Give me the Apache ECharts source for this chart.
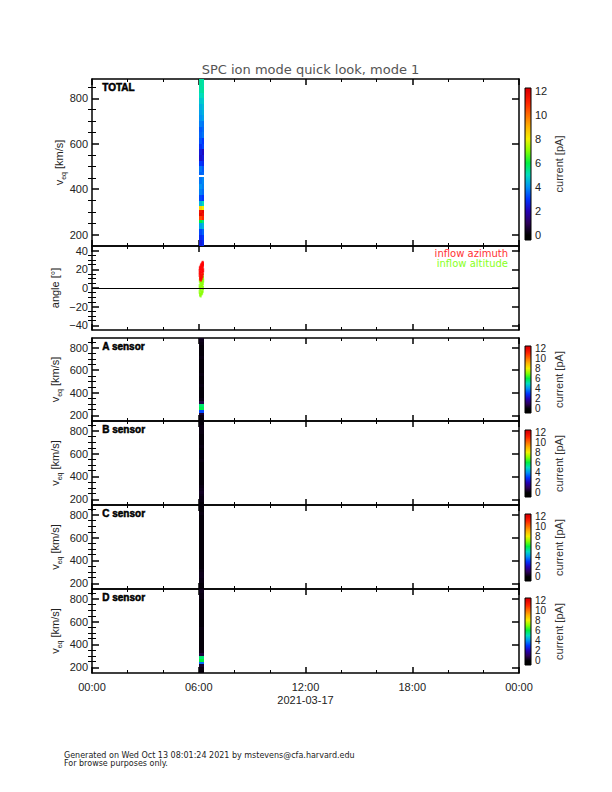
<!DOCTYPE html>
<html><head><meta charset="utf-8">
<script src="https://cdn.jsdelivr.net/npm/echarts@6/dist/echarts.min.js"></script>
<style>html,body{margin:0;padding:0;background:#fff}#c{width:612px;height:792px}</style>
</head><body><div id="c"></div>
<script>
// ---------------- data ----------------
const titleText = 'SPC ion mode quick look, mode 1';
const timeTickHours = [0, 6, 12, 18, 24];
const timeTickLabels = ['00:00', '06:00', '12:00', '18:00', '00:00'];
const dateLabel = '2021-03-17';
const velTicks = [200, 400, 600, 800];
const velMinorTicks = [250, 300, 350, 450, 500, 550, 650, 700, 750, 850];
const angleTicks = [-40, -20, 0, 20, 40];
const angleMinorTicks = [-35, -30, -25, -15, -10, -5, 5, 10, 15, 25, 30, 35];
const colorbarTicks = [0, 2, 4, 6, 8, 10, 12];
const cmapColors = ['#000000', '#2c0058', '#2400b4', '#0034ff', '#0092f4', '#00dcc0', '#00f040',
                    '#84ff00', '#f4f000', '#ffb400', '#ff6c00', '#ff2400', '#e00000'];
const panelNames = ['TOTAL', 'A sensor', 'B sensor', 'C sensor', 'D sensor'];
const footerLines = ['Generated on Wed Oct 13 08:01:24 2021 by mstevens@cfa.harvard.edu', 'For browse purposes only.'];
const legendNames = ['inflow azimuth', 'inflow altitude'];

// TOTAL spectrogram: two time sub-columns (hours), velocity bin edges (km/s), currents (pA)
const totalTimeEdges = [6.03, 6.155, 6.28];
const totalVelEdges = [150, 175, 200, 225, 250, 265, 280, 295, 310, 325, 350, 375, 400, 425, 455, 462,
                       475, 500, 525, 550, 575, 600, 625, 650, 675, 700, 725, 750, 775, 800, 825, 850, 885];
const totalCurrentEarly = [2.5, 2.8, 3.2, 4.2, 6.0, 10.5, 11.8, 11.5, 8.5, 4.5, 3.2, 3.8, 4.0, 3.7, null, 3.5,
                           3.7, 3.0, 2.3, 2.5, 2.9, 3.3, 3.5, 3.4, 3.8, 4.0, 4.2, 4.4, 4.7, 5.0, 5.2, 5.3];
const totalCurrentLate  = [2.8, 3.0, 3.5, 4.5, 5.5, 11.0, 11.5, 11.8, 8.0, 5.0, 3.0, 3.6, 3.8, 3.9, null, 3.6,
                           3.4, 2.8, 2.5, 2.2, 3.2, 3.0, 3.7, 3.6, 3.7, 4.2, 4.4, 4.6, 4.8, 5.1, 5.3, 5.2];

// Sensor spectrograms
const sensorTimeEdges = [6.03, 6.28];
const sensorVelEdges = [150, 175, 200, 225, 250, 275, 300, 325, 350, 375, 400, 425, 450, 475, 500,
                        525, 550, 575, 600, 625, 650, 675, 700, 725, 750, 775, 800, 825, 850, 885];
const sensorA = [0.1, 0.2, 0.6, 3.2, 5.9, 5.6, 0.8, 0.2, 0.1, 0.1, 0.1, 0.1, 0.2, 0.1, 0.1,
                 0.1, 0.2, 0.1, 0.1, 0.1, 0.1, 0.1, 0.2, 0.1, 0.1, 0.1, 0.1, 0.2, 0.3];
const sensorB = [0.1, 0.2, 0.2, 0.3, 0.4, 0.3, 0.2, 0.1, 0.1, 0.1, 0.1, 0.1, 0.1, 0.1, 0.1,
                 0.2, 0.1, 0.1, 0.1, 0.1, 0.2, 0.1, 0.1, 0.1, 0.1, 0.2, 0.2, 0.2, 0.1];
const sensorC = [0.1, 0.1, 0.2, 0.2, 0.3, 0.3, 0.2, 0.1, 0.1, 0.1, 0.1, 0.1, 0.1, 0.1, 0.1,
                 0.1, 0.1, 0.1, 0.1, 0.1, 0.1, 0.1, 0.1, 0.1, 0.1, 0.1, 0.2, 0.1, 0.1];
const sensorD = [0.1, 0.2, 0.5, 3.6, 6.0, 5.6, 0.7, 0.2, 0.1, 0.1, 0.1, 0.1, 0.1, 0.1, 0.1,
                 0.2, 0.1, 0.1, 0.1, 0.1, 0.1, 0.1, 0.1, 0.1, 0.1, 0.1, 0.2, 0.2, 0.3];

// Inflow angles [hour, degrees]
const azimuthPoints = [[6.05,14],[6.05,18],[6.06,21],[6.07,10],[6.08,16],[6.09,22],[6.10,12],[6.11,19],
  [6.12,24],[6.13,9],[6.14,15],[6.15,21],[6.16,25],[6.17,11],[6.18,18],[6.19,23],[6.20,26],[6.21,13],
  [6.22,20],[6.22,27],[6.23,16],[6.24,24],[6.24,26],[6.25,19]];
const altitudePoints = [[6.05,-4],[6.05,2],[6.06,8],[6.07,-7],[6.08,0],[6.09,6],[6.10,11],[6.11,-8],
  [6.12,-2],[6.13,4],[6.14,10],[6.15,-6],[6.16,1],[6.17,7],[6.18,13],[6.19,-5],[6.20,3],[6.21,9],
  [6.22,14],[6.22,-3],[6.23,5],[6.24,11],[6.24,0],[6.25,8]];

// ---------------- layout ----------------
const FONT = 'Liberation Sans, Arial, sans-serif';
const WFONT = 'DejaVu Sans, sans-serif';
const PL = 92, PW = 427;
const panels = [
  {top: 79,  height: 167, kind: 'vel', name: 0, cbTop: 88,  cbH: 152, cbMin: -0.4, cbMax: 12.23, cbFont: 11},
  {top: 246, height: 84,  kind: 'angle'},
  {top: 338, height: 83,  kind: 'vel', name: 1, cbTop: 346, cbH: 67, cbMin: -0.8, cbMax: 12.4, cbFont: 10},
  {top: 421, height: 84,  kind: 'vel', name: 2, cbTop: 430, cbH: 67, cbMin: -0.8, cbMax: 12.4, cbFont: 10},
  {top: 505, height: 84,  kind: 'vel', name: 3, cbTop: 514, cbH: 67, cbMin: -0.8, cbMax: 12.4, cbFont: 10},
  {top: 589, height: 84,  kind: 'vel', name: 4, cbTop: 598, cbH: 67, cbMin: -0.8, cbMax: 12.4, cbFont: 10}
];
const VMIN = 150, VMAX = 885;
const lineStyle = {color: '#000', width: 1.5};
const grid = [], xAxis = [], yAxis = [], series = [];
const mainAx = [];

function cellData(timeEdges, velEdges, columns) {
  const out = [];
  for (let c = 0; c < columns.length; c++) {
    for (let i = 0; i < columns[c].length; i++) {
      const v = columns[c][i];
      if (v === null || v === undefined) continue;
      out.push([timeEdges[c], timeEdges[c + 1], velEdges[i], velEdges[i + 1], v]);
    }
  }
  return out;
}
function renderCell(params, api) {
  const a = api.coord([api.value(0), api.value(3)]);
  const b = api.coord([api.value(1), api.value(2)]);
  const x0 = Math.round(a[0]), x1 = Math.round(b[0]);
  const y0 = Math.round(a[1]), y1 = Math.round(b[1]);
  return {type: 'rect', shape: {x: x0, y: y0, width: x1 - x0, height: y1 - y0},
          style: {fill: api.visual('color')}};
}
const velName = '{v|v}{s|eq}{n| [km/s]}';
const velRich = {v: {fontSize: 11, lineHeight: 16, fontFamily: FONT, color: '#222'},
                 s: {fontSize: 7, lineHeight: 8, verticalAlign: 'bottom', fontFamily: FONT, color: '#222'},
                 n: {fontSize: 11, lineHeight: 16, fontFamily: FONT, color: '#222'}};

panels.forEach((p, g) => {
  grid.push({left: PL, width: PW, top: p.top, height: p.height});
  const isBottom = g === panels.length - 1;
  const xb = xAxis.length;
  xAxis.push({gridIndex: g, type: 'value', min: 0, max: 24, interval: 6, position: 'bottom',
    axisLine: {onZero: false, lineStyle}, axisTick: {inside: true, length: 6, lineStyle},
    minorTick: {show: true, splitNumber: 3, length: 3, lineStyle: {color: '#000', width: 1}},
    splitLine: {show: false},
    axisLabel: {show: isBottom, margin: 8, fontSize: 11, fontFamily: FONT, color: '#222',
      formatter: v => { const k = timeTickHours.indexOf(v); return k >= 0 ? timeTickLabels[k] : ''; }},
    name: isBottom ? dateLabel : '', nameLocation: 'middle', nameGap: 21, nameMoveOverlap: false,
    nameTextStyle: {fontSize: 11, fontFamily: FONT, color: '#222'}});
  xAxis.push({gridIndex: g, type: 'value', min: 0, max: 24, interval: 6, position: 'top',
    axisLine: {onZero: false, lineStyle}, axisTick: {inside: true, length: 6, lineStyle},
    minorTick: {show: true, splitNumber: 3, length: 3, lineStyle: {color: '#000', width: 1}},
    splitLine: {show: false}, axisLabel: {show: false}});
  const isVel = p.kind === 'vel';
  const mn = isVel ? VMIN : -45, mx = isVel ? VMAX : 45;
  const majors = isVel ? velTicks : angleTicks;
  const minors = isVel ? velMinorTicks : angleMinorTicks;
  const yl = yAxis.length;
  yAxis.push({gridIndex: g, type: 'value', min: mn, max: mx, position: 'left',
    axisLine: {onZero: false, lineStyle},
    axisTick: {inside: true, length: 7, customValues: majors, lineStyle},
    axisLabel: {customValues: majors, margin: 4, fontSize: 11, fontFamily: FONT, color: '#222',
      formatter: v => String(v).replace('-', '\u2212')},
    splitLine: {show: false},
    name: isVel ? velName : 'angle [\u00b0]', nameLocation: 'middle', nameRotate: 90,
    nameGap: isVel ? (g === 0 ? 25 : 29) : 32, nameMoveOverlap: false,
    nameTextStyle: {fontSize: 11, fontFamily: FONT, color: '#222', rich: velRich}});
  yAxis.push({gridIndex: g, type: 'value', min: mn, max: mx, position: 'left',
    axisLine: {show: false}, axisTick: {inside: true, length: 4, customValues: minors, lineStyle: {color: '#000', width: 1}},
    axisLabel: {show: false}, splitLine: {show: false}});
  yAxis.push({gridIndex: g, type: 'value', min: mn, max: mx, position: 'right',
    axisLine: {onZero: false, lineStyle},
    axisTick: {inside: true, length: 7, customValues: majors, lineStyle},
    axisLabel: {show: false}, splitLine: {show: false}});
  yAxis.push({gridIndex: g, type: 'value', min: mn, max: mx, position: 'right',
    axisLine: {show: false}, axisTick: {inside: true, length: 4, customValues: minors, lineStyle: {color: '#000', width: 1}},
    axisLabel: {show: false}, splitLine: {show: false}});
  mainAx.push({x: xb, y: yl});
});

// spectrogram series
const visualSeries = [];
function addSpec(g, data) {
  visualSeries.push(series.length);
  series.push({type: 'custom', xAxisIndex: mainAx[g].x, yAxisIndex: mainAx[g].y,
    renderItem: renderCell, data, encode: {x: [0, 1], y: [2, 3]}, clip: true, silent: true, z: 1});
}
addSpec(0, cellData(totalTimeEdges, totalVelEdges, [totalCurrentEarly, totalCurrentLate]));
addSpec(2, cellData(sensorTimeEdges, sensorVelEdges, [sensorA]));
addSpec(3, cellData(sensorTimeEdges, sensorVelEdges, [sensorB]));
addSpec(4, cellData(sensorTimeEdges, sensorVelEdges, [sensorC]));
addSpec(5, cellData(sensorTimeEdges, sensorVelEdges, [sensorD]));

// angles
series.push({type: 'scatter', xAxisIndex: mainAx[1].x, yAxisIndex: mainAx[1].y, data: altitudePoints,
  symbol: 'rect', symbolSize: [2, 4], itemStyle: {color: '#88ff00'}, silent: true, z: 2,
  markLine: {silent: true, symbol: 'none', label: {show: false}, animation: false,
    lineStyle: {color: '#000', width: 1, type: 'solid'}, data: [{yAxis: 0}]}});
series.push({type: 'scatter', xAxisIndex: mainAx[1].x, yAxisIndex: mainAx[1].y, data: azimuthPoints,
  symbol: 'rect', symbolSize: [2, 4], itemStyle: {color: '#ff0000'}, silent: true, z: 3});

// colorbars
panels.forEach((p, g) => {
  if (p.kind !== 'vel') return;
  const gi = grid.length;
  grid.push({left: 525, width: 6, top: p.cbTop, height: p.cbH});
  const xi = xAxis.length, yi = yAxis.length;
  xAxis.push({gridIndex: gi, type: 'value', min: 0, max: 1, show: false});
  yAxis.push({gridIndex: gi, type: 'value', min: p.cbMin, max: p.cbMax, position: 'right',
    axisLine: {show: false}, axisTick: {show: false}, splitLine: {show: false},
    axisLabel: {customValues: colorbarTicks, margin: 4, fontSize: p.cbFont, lineHeight: p.cbFont,
      fontFamily: FONT, color: '#222', hideOverlap: false, showMinLabel: true, showMaxLabel: true},
    name: 'current [pA]', nameLocation: 'middle', nameRotate: 90, nameGap: 22, nameMoveOverlap: false,
    nameTextStyle: {fontSize: 11, fontFamily: FONT, color: '#333'}});
  const lo = p.cbMin, hi = p.cbMax;
  series.push({type: 'custom', xAxisIndex: xi, yAxisIndex: yi, silent: true, data: [[0, 1, lo, hi]],
    encode: {x: [0, 1], y: [2, 3]},
    renderItem: (params, api) => {
      const a = api.coord([api.value(0), api.value(3)]);
      const b = api.coord([api.value(1), api.value(2)]);
      const stops = [{offset: 0, color: cmapColors[0]}];
      cmapColors.forEach((c, k) => stops.push({offset: (k - lo) / (hi - lo), color: c}));
      stops.push({offset: 1, color: cmapColors[cmapColors.length - 1]});
      return {type: 'rect', shape: {x: a[0], y: a[1], width: b[0] - a[0], height: b[1] - a[1]},
        style: {fill: {type: 'linear', x: 0, y: 1, x2: 0, y2: 0, colorStops: stops},
                stroke: '#000', lineWidth: 1}};
    }});
});

// texts
const graphic = [];
panels.forEach(p => {
  if (p.kind !== 'vel') return;
  graphic.push({type: 'text', left: PL + 10, top: p.top + 3, z: 100,
    style: {text: panelNames[p.name], font: 'bold 10px ' + FONT, fill: '#000', stroke: '#000', lineWidth: 0.5}});
});
graphic.push({type: 'text', x: 508, y: 248, z: 100,
  style: {text: '{a|' + legendNames[0] + '}\n{b|' + legendNames[1] + '}', align: 'right',
    rich: {a: {fontSize: 10, lineHeight: 10.5, fontFamily: WFONT, fill: '#ff3333', align: 'right'},
           b: {fontSize: 10, lineHeight: 10.5, fontFamily: WFONT, fill: '#88ff22', align: 'right'}}}});
graphic.push({type: 'text', x: 64, y: 751, z: 100,
  style: {text: footerLines.join('\n'), font: '8px ' + WFONT, lineHeight: 8.5, fill: '#222'}});

const chart = echarts.init(document.getElementById('c'), null, {renderer: 'svg'});
chart.setOption({
  animation: false,
  backgroundColor: '#fff',
  title: {text: titleText, left: PL + PW / 2, textAlign: 'center', top: 58,
    textStyle: {fontSize: 13, fontWeight: 'normal', fontFamily: WFONT, color: '#555'}},
  grid, xAxis, yAxis, series, graphic,
  visualMap: {type: 'continuous', show: false, min: 0, max: 12, dimension: 4,
    seriesIndex: visualSeries, inRange: {color: cmapColors}}
});
</script></body></html>
